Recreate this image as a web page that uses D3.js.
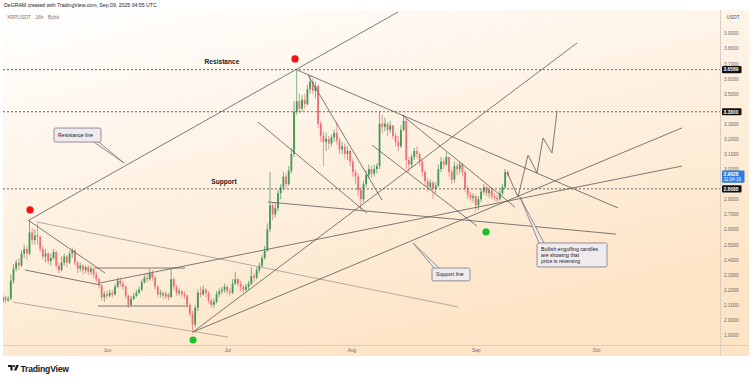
<!DOCTYPE html>
<html><head><meta charset="utf-8">
<script src="https://cdn.jsdelivr.net/npm/d3@7/dist/d3.min.js"></script>
<style>
html,body{margin:0;padding:0;background:#fff;}
svg{display:block;font-family:"Liberation Sans",Arial,sans-serif;}
</style></head>
<body><svg id="chart" width="752" height="381"></svg>
<script>
// ---------- DATA ----------
const symbolTitle = "XRPUSDT · 16h · Bybit";
const headerText = "DeGRAM created with TradingView.com, Sep 09, 2025 04:55 UTC";
const candleStart = "2025-05-06T00:00:00Z";
const candleStepHours = 16;
const firstOpen = 2.12;
const closes = [
2.15,2.13,2.14,2.26,2.34,2.38,2.36,2.44,2.47,2.44,
2.58,2.53,2.56,2.55,2.47,2.42,2.44,2.39,2.41,2.45,
2.36,2.33,2.38,2.42,2.38,2.44,2.46,2.38,2.34,2.36,
2.33,2.35,2.32,2.34,2.30,2.27,2.23,2.15,2.17,2.16,
2.18,2.17,2.22,2.26,2.24,2.22,2.16,2.10,2.14,2.16,
2.18,2.20,2.25,2.28,2.27,2.31,2.28,2.22,2.17,2.18,
2.16,2.17,2.15,2.27,2.22,2.18,2.19,2.17,2.16,2.10,
2.04,1.97,2.08,2.18,2.17,2.20,2.18,2.13,2.10,2.12,
2.17,2.19,2.20,2.22,2.19,2.18,2.24,2.27,2.24,2.22,
2.20,2.22,2.24,2.29,2.28,2.33,2.36,2.41,2.46,2.60,
2.76,2.70,2.74,2.84,2.88,2.95,2.90,2.99,3.10,3.38,
3.45,3.40,3.46,3.43,3.53,3.58,3.52,3.55,3.30,3.22,
3.18,3.20,3.17,3.21,3.24,3.19,3.13,3.15,3.10,3.12,
3.05,2.98,2.95,2.86,2.80,2.90,2.96,3.00,2.97,3.00,
3.02,3.30,3.28,3.30,3.26,3.29,3.22,3.18,3.15,3.26,
3.32,3.06,3.03,3.08,3.12,3.10,3.05,2.98,2.92,2.88,
2.91,2.87,2.89,3.00,3.05,3.03,3.08,2.98,2.93,3.02,
3.00,3.03,2.98,2.87,2.83,2.81,2.82,2.76,2.80,2.85,
2.88,2.84,2.86,2.82,2.81,2.80,2.84,2.88,2.98,2.96];
const highs = [
2.17,2.16,2.16,2.30,2.37,2.40,2.41,2.46,2.50,2.49,
2.66,2.61,2.60,2.64,2.56,2.49,2.47,2.45,2.44,2.47,
2.46,2.38,2.42,2.44,2.43,2.46,2.48,2.47,2.39,2.38,
2.37,2.36,2.36,2.36,2.35,2.32,2.28,2.24,2.19,2.19,
2.20,2.20,2.24,2.28,2.28,2.26,2.23,2.17,2.16,2.18,
2.20,2.22,2.27,2.30,2.31,2.34,2.33,2.29,2.23,2.20,
2.19,2.19,2.18,2.34,2.28,2.23,2.21,2.20,2.19,2.17,
2.11,2.06,2.10,2.20,2.22,2.23,2.21,2.19,2.14,2.14,
2.19,2.21,2.22,2.24,2.23,2.21,2.27,2.32,2.28,2.26,
2.23,2.24,2.26,2.35,2.31,2.35,2.38,2.43,2.49,2.64,
2.98,2.78,2.78,2.86,2.90,2.98,2.97,3.02,3.14,3.45,
3.66,3.50,3.49,3.50,3.56,3.62,3.60,3.58,3.56,3.32,
3.25,3.24,3.22,3.23,3.26,3.31,3.21,3.18,3.17,3.15,
3.13,3.07,3.00,2.97,2.88,2.92,2.99,3.03,3.02,3.03,
3.04,3.38,3.36,3.34,3.31,3.32,3.29,3.24,3.22,3.29,
3.36,3.34,3.08,3.10,3.14,3.15,3.11,3.06,2.99,2.94,
2.93,2.92,2.91,3.03,3.08,3.07,3.11,3.08,3.00,3.05,
3.04,3.05,3.04,2.99,2.89,2.85,2.84,2.83,2.82,2.87,
2.90,2.89,2.88,2.87,2.84,2.83,2.86,2.90,3.00,2.99];
const lows = [
2.10,2.11,2.12,2.13,2.24,2.32,2.33,2.35,2.41,2.40,
2.43,2.50,2.50,2.50,2.45,2.40,2.38,2.37,2.36,2.40,
2.34,2.31,2.32,2.36,2.35,2.37,2.41,2.36,2.31,2.32,
2.30,2.31,2.30,2.30,2.28,2.25,2.21,2.13,2.12,2.14,
2.15,2.15,2.16,2.21,2.22,2.20,2.14,2.08,2.09,2.13,
2.15,2.17,2.19,2.24,2.25,2.26,2.26,2.20,2.15,2.15,
2.14,2.14,2.13,2.15,2.20,2.16,2.16,2.15,2.14,2.08,
2.02,1.91,1.95,2.06,2.15,2.16,2.15,2.11,2.08,2.08,
2.11,2.15,2.17,2.18,2.17,2.16,2.17,2.23,2.22,2.19,
2.18,2.19,2.20,2.23,2.25,2.27,2.31,2.35,2.40,2.45,
2.58,2.66,2.68,2.72,2.80,2.86,2.87,2.89,2.97,3.08,
3.36,3.37,3.38,3.40,3.42,3.50,3.50,3.47,3.27,3.18,
3.02,3.12,3.13,3.15,3.18,3.16,3.10,3.10,3.07,3.06,
3.02,2.95,2.90,2.82,2.73,2.78,2.88,2.94,2.94,2.95,
2.97,3.00,3.24,3.25,3.22,3.24,3.20,3.15,3.12,3.14,
3.25,3.00,2.98,3.01,3.06,3.07,3.02,2.95,2.89,2.85,
2.86,2.80,2.84,2.88,2.98,3.00,3.02,2.95,2.90,2.91,
2.96,2.97,2.95,2.85,2.80,2.79,2.78,2.72,2.73,2.78,
2.83,2.82,2.81,2.80,2.79,2.78,2.79,2.83,2.87,2.95];

const monthTicks = ["2025-06-01","2025-07-01","2025-08-01","2025-09-01","2025-10-01"];
const priceTicks = [1.9,2.0,2.1,2.2,2.3,2.4,2.5,2.6,2.7,2.8,3.0,3.1,3.2,3.3,3.5,3.6,3.7,3.8,3.9];
const levelPrices = [3.6589, 3.38, 2.8688];
const lastPrice = 2.9628;
const countdown = "11:04:16";

// drawings: [dayFromJun1, price, dayFromJun1, price, light?]
const trendLines = [
 [-19.46,2.662, 72.60,4.041, 0],
 [-19.71,2.662, -0.50,2.311, 0],
 [-17.47,2.649, 87.57,2.086, 1],
 [-20.46,2.331, -1.75,2.232, 0],
 [-1.75,2.245, 143.46,3.020, 0],
 [-2.99,2.344, 19.46,2.344, 0],
 [-2.25,2.092, 20.21,2.092, 0],
 [-23.45,2.118, 30.19,1.886, 1],
 [21.46,1.920, 117.27,3.836, 0],
 [21.46,1.920, 143.46,3.273, 0],
 [47.41,3.657, 127.50,2.742, 0],
 [50.15,3.623, 68.61,2.795, 0],
 [37.67,3.312, 64.87,2.708, 0],
 [40.17,2.782, 126.99,2.569, 0],
 [66.12,3.159, 92.32,2.622, 0],
 [73.60,3.358, 101.80,2.748, 0]
];
const projection = [[99.80,2.980],[102.54,2.815],[105.04,3.093],[107.29,2.974],[108.78,3.206],[111.03,3.107],[112.28,3.385]];
const callouts = [
 {lines:["Resistance line"], box:[-13.22,3.272,-1.50,3.179], tip:[4.24,3.040], side:"br"},
 {lines:["Support line"], box:[81.09,2.344,90.57,2.259], tip:[76.35,2.510], side:"tl"},
 {lines:["Bullish engulfing candles","are showing that","price is reversing"], box:[107.29,2.510,124.75,2.351], tip:[103.04,2.814], side:"tl"}
];
const zoneLabels = [{text:"Resistance", d:28.69, p:3.71},{text:"Support", d:29.19, p:2.914}];
const markers = [{d:-19.21,p:2.729,kind:"top"},{d:46.91,p:3.730,kind:"top"},{d:21.46,p:1.867,kind:"bottom"},{d:94.56,p:2.583,kind:"bottom"}];

// ---------- DRAW ----------
const svg = d3.select("#chart");
const plot = {l:3, r:720, t:10, b:345};
const x = d3.scaleUtc().domain([new Date("2025-06-01T00:00:00Z"), new Date("2025-10-01T00:00:00Z")]).range([107,596]);
const y = d3.scaleLinear().domain([1.9,3.9]).range([335,33.3]);
const ref = Date.parse("2025-06-01T00:00:00Z");
const X = d => x(new Date(ref + d*864e5));
const upC = "#3f9a55", dnC = "#ec6f78", lineC = "#5a5a5a", lightC = "#a09a94";

const defs = svg.append("defs");
const gr = defs.append("linearGradient").attr("id","bg").attr("x1","0").attr("y1","0").attr("x2","0.5").attr("y2","1");
gr.append("stop").attr("offset","0").attr("stop-color","#ffffff");
gr.append("stop").attr("offset","1").attr("stop-color","#fde4c6");
defs.append("clipPath").attr("id","clip").append("rect")
  .attr("x",plot.l).attr("y",plot.t).attr("width",plot.r-plot.l).attr("height",plot.b-plot.t);

svg.append("rect").attr("x",3).attr("y",10).attr("width",746).attr("height",346).attr("fill","url(#bg)");
svg.append("line").attr("x1",3).attr("x2",749).attr("y1",345.5).attr("y2",345.5).attr("stroke","#d9cdbf").attr("stroke-width",1);
svg.append("line").attr("x1",720.5).attr("x2",720.5).attr("y1",10).attr("y2",356).attr("stroke","#d9cdbf").attr("stroke-width",1);

// header
svg.append("text").attr("x",4).attr("y",7).attr("font-size",5.2).attr("fill","#222").text(headerText);
svg.append("text").attr("x",7).attr("y",18.5).attr("font-size",5).attr("fill","#777").text(symbolTitle);

// candles
const t0 = Date.parse(candleStart);
const candles = closes.map((c,i)=>({t:new Date(t0 + i*candleStepHours*3600e3), o: i? closes[i-1] : firstOpen, h:highs[i], l:lows[i], c}));
const cg = svg.append("g").attr("clip-path","url(#clip)");
cg.selectAll("line.wick").data(candles).join("line").attr("class","wick")
  .attr("x1",d=>x(d.t)).attr("x2",d=>x(d.t)).attr("y1",d=>y(d.h)).attr("y2",d=>y(d.l))
  .attr("stroke",d=>d.c>=d.o?upC:dnC).attr("stroke-width",0.7);
cg.selectAll("rect.body").data(candles).join("rect").attr("class","body")
  .attr("x",d=>x(d.t)-0.9).attr("width",1.8)
  .attr("y",d=>y(Math.max(d.o,d.c))).attr("height",d=>Math.max(0.8,Math.abs(y(d.o)-y(d.c))))
  .attr("fill",d=>d.c>=d.o?upC:dnC);

// drawings
const dg = svg.append("g").attr("clip-path","url(#clip)");
dg.selectAll("line.lvl").data(levelPrices).join("line").attr("class","lvl")
  .attr("x1",plot.l).attr("x2",plot.r).attr("y1",d=>y(d)).attr("y2",d=>y(d))
  .attr("stroke","#555").attr("stroke-width",0.9).attr("stroke-dasharray","2,2");
dg.selectAll("line.tl").data(trendLines).join("line").attr("class","tl")
  .attr("x1",d=>X(d[0])).attr("y1",d=>y(d[1])).attr("x2",d=>X(d[2])).attr("y2",d=>y(d[3]))
  .attr("stroke",d=>d[4]?lightC:lineC).attr("stroke-width",0.8);
dg.append("path").datum(projection)
  .attr("d",d3.line().x(d=>X(d[0])).y(d=>y(d[1])))
  .attr("fill","none").attr("stroke",lineC).attr("stroke-width",0.8);

// callouts
callouts.forEach(c=>{
  const bx0 = X(c.box[0]), by0 = y(c.box[1]), bx1 = X(c.box[2]), by1 = y(c.box[3]);
  const tx = X(c.tip[0]), ty = y(c.tip[1]);
  let a, b;
  if(c.side==="br"){ a=[bx1-7,by1]; b=[bx1-2,by1]; }
  else { a=[bx0+2,by0]; b=[bx0+7,by0]; }
  dg.append("path").attr("d",`M${a[0]},${a[1]}L${tx},${ty}L${b[0]},${b[1]}`)
    .attr("fill","#eeeaee").attr("stroke","#6d6470").attr("stroke-width",0.7);
  dg.append("rect").attr("x",bx0).attr("y",by0).attr("width",bx1-bx0).attr("height",by1-by0)
    .attr("rx",1.5).attr("fill","#eeeaee").attr("stroke","#6d6470").attr("stroke-width",0.7);
  const n = c.lines.length, cy=(by0+by1)/2;
  c.lines.forEach((s,i)=>{
    dg.append("text").attr("x",bx0+4).attr("y",cy+(i-(n-1)/2)*6+1.8)
      .attr("font-size",5.2).attr("fill","#222").text(s);
  });
});

dg.selectAll("text.zl").data(zoneLabels).join("text").attr("class","zl")
  .attr("x",d=>X(d.d)).attr("y",d=>y(d.p)+2.2).attr("text-anchor","middle")
  .attr("font-size",6.6).attr("font-weight","bold").attr("fill","#222").text(d=>d.text);

dg.selectAll("circle.mk").data(markers).join("circle").attr("class","mk")
  .attr("cx",d=>X(d.d)).attr("cy",d=>y(d.p)).attr("r",3.6)
  .attr("fill",d=>d.kind==="top"?"#f01414":"#1dbf2a");

// price axis
const ya = svg.append("g").attr("transform","translate(724,0)")
  .call(d3.axisRight(y).tickValues(priceTicks).tickFormat(d3.format(".4f")).tickSize(0).tickPadding(0));
ya.select(".domain").remove();
ya.selectAll("text").attr("font-size",4.8).attr("fill","#6a6a6a").attr("font-family","Liberation Sans, Arial, sans-serif");
svg.append("text").attr("x",726.5).attr("y",19).attr("font-size",4.8).attr("fill","#555").text("USDT");

const lb = svg.append("g");
levelPrices.forEach(p=>{
  lb.append("rect").attr("x",722).attr("y",y(p)-3.6).attr("width",19.5).attr("height",7.2).attr("rx",1).attr("fill","#111");
  lb.append("text").attr("x",723.5).attr("y",y(p)+1.8).attr("font-size",4.9).attr("font-weight","bold").attr("fill","#fff").text(d3.format(".4f")(p));
});
lb.append("rect").attr("x",722).attr("y",y(lastPrice)-4.3).attr("width",22.5).attr("height",12.3).attr("rx",1).attr("fill","#2f7ce0");
lb.append("text").attr("x",723.5).attr("y",y(lastPrice)+1.4).attr("font-size",4.9).attr("font-weight","bold").attr("fill","#fff").text(d3.format(".4f")(lastPrice));
lb.append("text").attr("x",723.5).attr("y",y(lastPrice)+6.6).attr("font-size",4.6).attr("fill","#fff").text(countdown);

// time axis
const xa = svg.append("g").attr("transform","translate(0,348)")
  .call(d3.axisBottom(x).tickValues(monthTicks.map(s=>new Date(s+"T00:00:00Z"))).tickFormat(d3.utcFormat("%b")).tickSize(0).tickPadding(0));
xa.select(".domain").remove();
xa.selectAll("text").attr("font-size",4.8).attr("fill","#6a6a6a").attr("dy","0.9em").attr("font-family","Liberation Sans, Arial, sans-serif");

// footer logo
const lg = svg.append("g").attr("transform","translate(8,365)").attr("fill","#131722");
lg.append("path").attr("d","M0,0H4.6V5.4H2.4V2H0Z");
lg.append("circle").attr("cx",6.1).attr("cy",1.1).attr("r",1.1);
lg.append("path").attr("d","M8.3,0H10.8L8.4,5.4H5.9Z");
svg.append("text").attr("x",20.5).attr("y",371.5).attr("font-size",8.6).attr("font-weight","bold").attr("fill","#131722").attr("letter-spacing","-0.2").text("TradingView");
</script>
</body></html>
